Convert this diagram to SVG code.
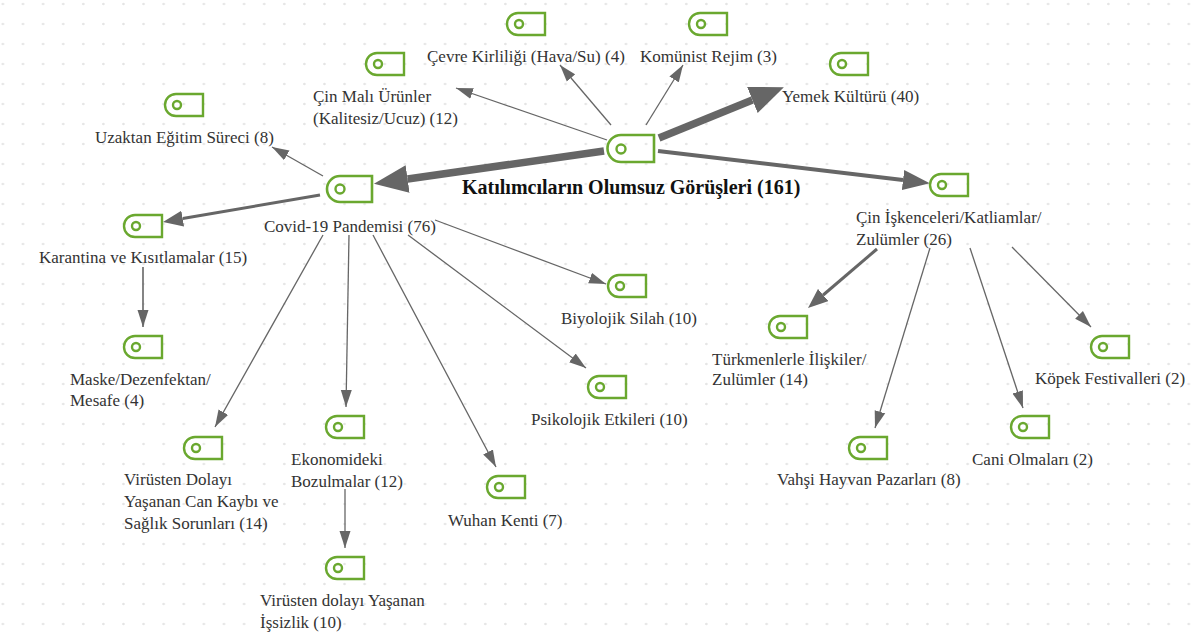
<svg xmlns="http://www.w3.org/2000/svg" width="1196" height="635" viewBox="0 0 1196 635">
<style>
text{font-family:"Liberation Serif","Times New Roman",serif;font-size:17px;fill:#333}
.b{font-weight:bold;font-size:20px;fill:#111}
.n{fill:none;stroke:#6aa82f;stroke-width:2.4}
.e{fill:none;stroke:#666}
.t1{stroke-width:1.3;marker-end:url(#ah1)}
.t2{stroke-width:3;marker-end:url(#ah2)}
.t3{stroke-width:4;marker-end:url(#ah3)}
.t4{stroke-width:7.5;marker-end:url(#ah4)}
</style>
<defs>
<pattern id="dots" x="13" y="-6" width="20.1" height="20" patternUnits="userSpaceOnUse"><circle cx="10" cy="10" r="1.3" fill="#e4e4e4"/></pattern>
<marker id="ah1" markerUnits="userSpaceOnUse" markerWidth="18" markerHeight="12" refX="17" refY="6" orient="auto"><path d="M0 0.500L17 6L0 11.500z" fill="#666"/></marker>
<marker id="ah2" markerUnits="userSpaceOnUse" markerWidth="21" markerHeight="16" refX="0" refY="8" orient="auto"><path d="M0 0L20 8L0 16z" fill="#666"/></marker>
<marker id="ah3" markerUnits="userSpaceOnUse" markerWidth="28" markerHeight="20" refX="0" refY="10" orient="auto"><path d="M0 0L27 10L0 20z" fill="#666"/></marker>
<marker id="ah4" markerUnits="userSpaceOnUse" markerWidth="36" markerHeight="28" refX="0" refY="14" orient="auto"><path d="M0 0L34 14L0 28z" fill="#666"/></marker>
<g id="sn"><path class="n" d="M11 1H38V23H11A11 11 0 0 1 11 1Z"/><circle class="n" cx="12" cy="12" r="4"/></g>
</defs>
<rect width="1196" height="635" fill="#fff"/>
<rect width="1196" height="635" fill="url(#dots)"/>
<g id="connectors">
<path class="e t1" d="M607 140L456 88"/>
<path class="e t1" d="M611 125L560 65"/>
<path class="e t1" d="M646 125L683 65"/>
<path class="e t4" d="M659 138L752.400 100"/>
<path class="e t3" d="M658 151L903 180"/>
<path class="e t4" d="M604 151L407.600 179"/>
<path class="e t1" d="M323 176L272 147"/>
<path class="e t2" d="M320 195L182.700 218.600"/>
<path class="e t1" d="M143 267V327" style="stroke-width:1.6"/>
<path class="e t1" d="M323 235L215 427"/>
<path class="e t1" d="M349 235L346 407"/>
<path class="e t1" d="M373 235L496 467"/>
<path class="e t1" d="M408 235L586 368"/>
<path class="e t1" d="M435 220L606 284"/>
<path class="e t1" d="M345 489V548"/>
<path class="e t2" d="M877 249L823.200 295"/>
<path class="e t1" d="M930 248L875 428"/>
<path class="e t1" d="M970 248L1023 408"/>
<path class="e t1" d="M1012 247L1091 327"/>
</g>
<g id="n-main"><path class="n" d="M621 135H654V162H621A13.500 13.500 0 0 1 621 135Z" style="stroke-width:2.600"/><circle class="n" cx="621" cy="149" r="4.500"/><text class="b" x="462" y="194">Katılımcıların Olumsuz Görüşleri (161)</text></g>
<g id="n-covid"><path class="n" d="M340 176H372V202H340A13 13 0 0 1 340 176Z" style="stroke-width:2.600"/><circle class="n" cx="340" cy="189" r="4.500"/><text x="264" y="232">Covid-19 Pandemisi (76)</text></g>
<g id="n-cevre"><use href="#sn" x="507" y="12"/><text x="427" y="62">Çevre Kirliliği (Hava/Su) (4)</text></g>
<g id="n-komunist"><use href="#sn" x="689" y="12"/><text x="640" y="62">Komünist Rejim (3)</text></g>
<g id="n-cinmali"><use href="#sn" x="366" y="52"/><text x="313" y="102">Çin Malı Ürünler</text><text x="313" y="124">(Kalitesiz/Ucuz) (12)</text></g>
<g id="n-yemek"><use href="#sn" x="830" y="52"/><text x="782" y="102">Yemek Kültürü (40)</text></g>
<g id="n-uzaktan"><use href="#sn" x="165" y="93"/><text x="95" y="143">Uzaktan Eğitim Süreci (8)</text></g>
<g id="n-cinisk"><use href="#sn" x="930" y="173"/><text x="856" y="223">Çin İşkenceleri/Katliamlar/</text><text x="856" y="245">Zulümler (26)</text></g>
<g id="n-karantina"><use href="#sn" x="124" y="214"/><text x="39" y="263">Karantina ve Kısıtlamalar (15)</text></g>
<g id="n-biyolojik"><use href="#sn" x="608" y="274"/><text x="561" y="324">Biyolojik Silah (10)</text></g>
<g id="n-turkmen"><use href="#sn" x="769" y="315"/><text x="712" y="365">Türkmenlerle İlişkiler/</text><text x="712" y="385">Zulümler (14)</text></g>
<g id="n-kopek"><use href="#sn" x="1091" y="335"/><text x="1035" y="384">Köpek Festivalleri (2)</text></g>
<g id="n-maske"><use href="#sn" x="124" y="335"/><text x="70" y="385">Maske/Dezenfektan/</text><text x="70" y="406">Mesafe (4)</text></g>
<g id="n-psikolojik"><use href="#sn" x="588" y="375"/><text x="531" y="425">Psikolojik Etkileri (10)</text></g>
<g id="n-ekonomi"><use href="#sn" x="326" y="415"/><text x="291" y="465">Ekonomideki</text><text x="291" y="487">Bozulmalar (12)</text></g>
<g id="n-cani"><use href="#sn" x="1011" y="415"/><text x="972" y="465">Cani Olmaları (2)</text></g>
<g id="n-vahsi"><use href="#sn" x="849" y="436"/><text x="777" y="485">Vahşi Hayvan Pazarları (8)</text></g>
<g id="n-can"><use href="#sn" x="184" y="436"/><text x="124" y="485">Virüsten Dolayı</text><text x="124" y="507">Yaşanan Can Kaybı ve</text><text x="124" y="529">Sağlık Sorunları (14)</text></g>
<g id="n-wuhan"><use href="#sn" x="487" y="475"/><text x="448" y="526">Wuhan Kenti (7)</text></g>
<g id="n-issizlik"><use href="#sn" x="326" y="556"/><text x="260" y="606">Virüsten dolayı Yaşanan</text><text x="260" y="628">İşsizlik (10)</text></g>
</svg>
